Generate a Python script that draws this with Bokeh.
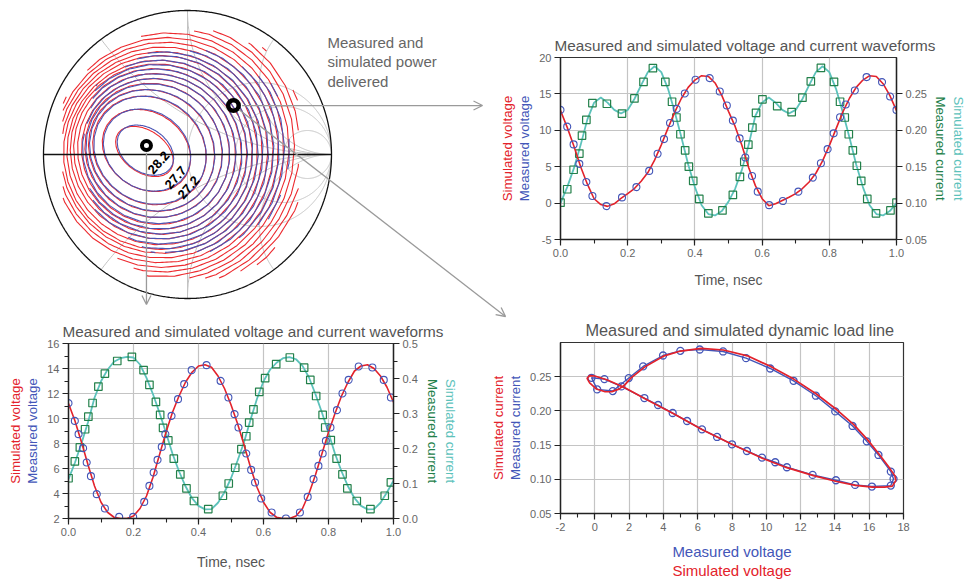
import numpy as np
from bokeh.plotting import figure
from bokeh.layouts import column
from bokeh.models import (Range1d, LinearAxis, SingleIntervalTicker, NumeralTickFormatter,
                          Title, Label, Arrow, OpenHead, GridBox)
from bokeh.core.properties import value
from bokeh.embed import file_html
from bokeh.resources import INLINE

FONT = "Liberation Sans"
RED = "#e3222b"
BLUE = "#4356b8"
GREEN = "#23804a"
CYAN = "#5cc2bb"
TITLE_GRAY = "#555555"
TICK_GRAY = "#666666"
GRID_GRAY = "#c4c4c4"

# ---------------------------------------------------------------- load-pull data
# Smith chart grid (normalised resistance / reactance values)
smith_r = [1, 2, 5]
smith_x = [0.5, 1, 2, -0.5, -1, -2]

# delivered power contours, dBm (simulated = red, measured = blue), reflection-coefficient plane
sim_levels = [28.2, 27.7, 27.2, 26.7, 26.2, 25.7, 25.2, 24.7, 24.2, 23.7, 23.2,
              22.7, 22.2, 21.7, 21.2, 20.7, 20.2, 19.7, 19.2, 18.7, 18.2, 17.7]
sim_cx = [-0.299, -0.285, -0.264, -0.250, -0.236, -0.222, -0.215, -0.208, -0.201, -0.194, -0.188,
          -0.181, -0.174, -0.167, -0.160, -0.153, -0.146, -0.139, -0.132, -0.125, -0.118, -0.111]
sim_cy = [0.021, 0.028, 0.028, 0.028, 0.028, 0.021, 0.021, 0.021, 0.021, 0.014, 0.014,
          0.014, 0.014, 0.014, 0.014, 0.014, 0.014, 0.014, 0.014, 0.014, 0.014, 0.014]
sim_a = [0.222, 0.326, 0.410, 0.451, 0.486, 0.521, 0.556, 0.590, 0.618, 0.646, 0.674,
         0.701, 0.729, 0.757, 0.785, 0.813, 0.840, 0.868, 0.896, 0.924, 0.951, 0.979]
sim_b = [0.146, 0.264, 0.361, 0.410, 0.458, 0.500, 0.535, 0.569, 0.604, 0.639, 0.674,
         0.701, 0.736, 0.771, 0.806, 0.840, 0.875, 0.910, 0.944, 0.979, 1.014, 1.049]

meas_levels = sim_levels[:18]
meas_cx = [-0.292, -0.281, -0.260, -0.245, -0.231, -0.218, -0.210, -0.202, -0.195, -0.188,
           -0.181, -0.174, -0.167, -0.160, -0.153, -0.146, -0.139, -0.132]
meas_cy = [0.030, 0.031, 0.030, 0.029, 0.027, 0.024, 0.022, 0.021, 0.019, 0.017,
           0.016, 0.015, 0.014, 0.014, 0.013, 0.013, 0.012, 0.012]
meas_a = [0.215, 0.320, 0.405, 0.448, 0.484, 0.519, 0.555, 0.589, 0.617, 0.645,
          0.673, 0.700, 0.728, 0.756, 0.784, 0.812, 0.839, 0.867]
meas_b = [0.152, 0.268, 0.362, 0.410, 0.456, 0.498, 0.533, 0.567, 0.602, 0.637,
          0.672, 0.699, 0.734, 0.769, 0.804, 0.838, 0.873, 0.908]
contour_tilt_deg = -35

# boundaries of the simulated and measured impedance sweeps
sim_sweep_gx = [-0.257, 0.243, 0.542, 0.771, 0.771, 0.542, 0.194, -0.257, -0.639, -0.868, -0.868, -0.604]
sim_sweep_gy = [-0.861, -0.861, -0.750, -0.389, 0.389, 0.736, 0.861, 0.861, 0.653, 0.375, -0.354, -0.653]
meas_sweep_gx = [-0.257, 0.194, 0.611, 0.729, 0.611, 0.194, -0.257, -0.639, -0.743, -0.639]
meas_sweep_gy = [-0.681, -0.681, -0.424, 0.028, 0.479, 0.722, 0.722, 0.479, 0.028, -0.424]

# optimum load and the operating load used for the waveforms
opt_load = (-0.285, 0.0625)
op_load = (0.319, 0.340)

# ---------------------------------------------------------------- waveform data (top right)
t_sim = [round(0.02 * k, 2) for k in range(51)]

ta_v_meas = [0.0, 0.020, 0.039, 0.056, 0.077, 0.095, 0.137, 0.183, 0.226, 0.264, 0.289, 0.308, 0.326,
             0.346, 0.370, 0.402, 0.444, 0.474, 0.495, 0.513, 0.533, 0.550, 0.570, 0.587, 0.621, 0.662,
             0.708, 0.751, 0.775, 0.795, 0.813, 0.832, 0.849, 0.876, 0.911, 0.957, 0.981, 1.0]
va_meas = [12.8, 10.5, 8.06, 5.39, 2.9, 0.97, -0.41, 0.78, 2.2, 4.42, 6.77, 8.79, 11.0,
           12.94, 15.06, 16.95, 17.17, 15.33, 13.4, 11.33, 8.89, 6.26, 3.73, 1.57, -0.28, 0.28,
           1.57, 3.5, 5.48, 7.41, 9.58, 11.79, 13.54, 15.47, 17.31, 16.62, 14.64, 12.8]
va_sim = [12.7, 10.4, 7.8, 5.0, 2.6, 0.6, -0.2, -0.45, -0.1, 0.65,
          1.3, 2.0, 3.0, 4.2, 5.9, 8.0, 10.3, 12.5, 14.4, 15.9,
          16.9, 17.5, 17.4, 16.5, 14.8, 12.6, 10.5, 7.9, 4.9, 2.4,
          0.6, -0.35, -0.1, 0.35, 0.8, 1.3, 2.0, 2.9, 4.1, 5.8,
          7.9, 10.2, 12.5, 14.4, 15.9, 16.9, 17.5, 17.4, 16.4, 14.8, 12.7]

ta_i_meas = [0.0, 0.020, 0.039, 0.056, 0.064, 0.077, 0.095, 0.138, 0.183, 0.220, 0.247, 0.275, 0.312,
             0.332, 0.345, 0.357, 0.371, 0.382, 0.395, 0.413, 0.440, 0.482, 0.513, 0.534, 0.547, 0.559,
             0.571, 0.582, 0.601, 0.645, 0.688, 0.720, 0.745, 0.775, 0.814, 0.832, 0.846, 0.858, 0.870,
             0.882, 0.895, 0.913, 0.939, 0.982, 1.0]
ia_meas = [0.1006, 0.119, 0.1458, 0.168, 0.1927, 0.2144, 0.2374, 0.2365, 0.223, 0.2438, 0.2664, 0.2853,
           0.2664, 0.2392, 0.2176, 0.1946, 0.1725, 0.150, 0.1306, 0.1057, 0.0859, 0.090, 0.1112, 0.136,
           0.1568, 0.1803, 0.2038, 0.224, 0.2425, 0.2333, 0.225, 0.2448, 0.2673, 0.2857, 0.2664, 0.2392,
           0.2176, 0.1946, 0.1725, 0.1513, 0.1306, 0.1057, 0.0859, 0.090, 0.1006]
ia_sim = [0.100, 0.122, 0.148, 0.180, 0.215, 0.238, 0.245, 0.238, 0.228, 0.223,
          0.228, 0.243, 0.262, 0.280, 0.288, 0.280, 0.257, 0.225, 0.190, 0.153,
          0.122, 0.097, 0.085, 0.083, 0.089, 0.102, 0.120, 0.146, 0.180, 0.220,
          0.238, 0.245, 0.238, 0.228, 0.223, 0.228, 0.243, 0.262, 0.280, 0.288,
          0.280, 0.257, 0.225, 0.190, 0.153, 0.122, 0.097, 0.085, 0.083, 0.089, 0.100]

# ---------------------------------------------------------------- waveform data (bottom left)
tb_v_meas = [0.0, 0.0195, 0.031, 0.045, 0.056, 0.069, 0.087, 0.112, 0.156, 0.199, 0.233, 0.249, 0.262,
             0.274, 0.287, 0.298, 0.317, 0.337, 0.356, 0.379, 0.425, 0.468, 0.492, 0.511, 0.523, 0.547,
             0.562, 0.574, 0.593, 0.625, 0.669, 0.712, 0.736, 0.754, 0.769, 0.782, 0.792, 0.806, 0.826,
             0.843, 0.862, 0.893, 0.935, 0.970, 0.992]
vb_meas = [11.23, 9.81, 8.75, 7.63, 6.48, 5.39, 3.95, 2.8, 2.13, 2.13, 3.33, 4.61, 5.68, 6.69, 7.73,
           8.75, 10.21, 11.55, 12.75, 13.87, 14.27, 13.01, 11.68, 10.35, 9.28, 7.2, 5.89, 4.88, 3.6,
           2.48, 2.0, 2.48, 3.73, 5.15, 6.21, 7.2, 8.21, 9.28, 10.67, 12.0, 13.09, 14.16, 14.08, 13.09, 11.68]
vb_sim = [11.2, 9.8, 8.1, 6.3, 4.6, 3.3, 2.5, 2.1, 2.0, 2.0,
          2.2, 2.8, 3.8, 5.3, 7.1, 8.9, 10.5, 11.8, 12.9, 13.7,
          14.2, 14.3, 14.1, 13.4, 12.4, 11.1, 9.6, 7.9, 6.1, 4.5,
          3.3, 2.5, 2.1, 2.0, 2.0, 2.2, 2.8, 4.0, 5.5, 7.2,
          8.9, 10.4, 11.8, 12.9, 13.8, 14.2, 14.3, 14.0, 13.4, 12.5, 11.3]

tb_i_meas = [0.0, 0.0195, 0.035, 0.051, 0.061, 0.074, 0.092, 0.112, 0.150, 0.195, 0.231, 0.249, 0.269,
             0.282, 0.291, 0.307, 0.324, 0.344, 0.363, 0.386, 0.430, 0.475, 0.493, 0.513, 0.532, 0.547,
             0.556, 0.569, 0.587, 0.605, 0.639, 0.681, 0.725, 0.744, 0.762, 0.782, 0.790, 0.807, 0.825,
             0.843, 0.858, 0.887, 0.929, 0.973, 0.992]
ib_meas = [0.115, 0.163, 0.203, 0.255, 0.291, 0.33, 0.377, 0.414, 0.45, 0.462, 0.424, 0.382, 0.333,
           0.296, 0.259, 0.223, 0.171, 0.126, 0.086, 0.05, 0.027, 0.065, 0.1, 0.145, 0.198, 0.235,
           0.274, 0.312, 0.362, 0.401, 0.441, 0.46, 0.431, 0.396, 0.35, 0.296, 0.26, 0.224, 0.171,
           0.126, 0.086, 0.05, 0.027, 0.065, 0.103]
ib_sim = [0.112, 0.160, 0.215, 0.275, 0.345, 0.392, 0.425, 0.448, 0.458, 0.462,
          0.460, 0.440, 0.402, 0.355, 0.302, 0.245, 0.185, 0.135, 0.092, 0.058,
          0.036, 0.026, 0.027, 0.045, 0.075, 0.115, 0.165, 0.218, 0.282, 0.342,
          0.392, 0.425, 0.445, 0.458, 0.461, 0.455, 0.436, 0.403, 0.355, 0.302,
          0.245, 0.185, 0.135, 0.092, 0.058, 0.036, 0.026, 0.027, 0.045, 0.075, 0.108]

# ---------------------------------------------------------------- dynamic load line (bottom right)
vc_meas = [2.89, 1.55, 0.56, -0.19, 0.14, 1.05, 1.98, 2.82, 3.98, 4.99, 6.12, 7.48, 8.82, 10.23,
           11.59, 12.89, 14.02, 15.03, 15.86, 16.54, 17.26, 17.42, 17.26, 16.16, 15.18, 14.06,
           12.70, 11.2, 10.52, 9.75, 8.87, 8.0, 7.13, 6.25, 5.38, 4.54, 3.69]
ic_meas = [0.2188, 0.2358, 0.2465, 0.2484, 0.2314, 0.229, 0.248, 0.265, 0.281, 0.2878, 0.2898,
           0.2869, 0.2771, 0.262, 0.244, 0.2222, 0.1993, 0.178, 0.1555, 0.1356, 0.1113, 0.1006,
           0.0908, 0.0894, 0.0918, 0.0986, 0.1064, 0.1176, 0.1249, 0.1317, 0.1414, 0.1512, 0.1619,
           0.173, 0.1852, 0.1969, 0.2086]
vc_sim = [17.55, 17.35, 16.9, 16.2, 15.2, 14.1, 12.8, 11.2, 9.8, 8.0, 6.3, 4.6, 2.9, 1.7, 0.7, 0.0,
          -0.3, -0.45, -0.3, 0.1, 0.6, 1.0, 1.4, 1.75, 2.1, 2.9, 4.0, 5.0, 6.2, 7.5, 8.9, 10.2, 11.6,
          12.9, 14.1, 15.1, 15.9, 16.6, 17.2, 17.5, 17.55]
ic_sim = [0.098, 0.090, 0.0885, 0.0885, 0.0912, 0.0968, 0.1050, 0.1170, 0.1305, 0.1512, 0.1722,
          0.1960, 0.2183, 0.2345, 0.2455, 0.2510, 0.2515, 0.2475, 0.2410, 0.2320, 0.2280, 0.2282,
          0.2318, 0.2380, 0.2480, 0.2640, 0.2800, 0.2875, 0.2915, 0.2890, 0.2805, 0.2655, 0.2465,
          0.2250, 0.2020, 0.1800, 0.1580, 0.1360, 0.1160, 0.1050, 0.098]


# ---------------------------------------------------------------- helpers
def style_plot(p, title, size="15.3px", offset=0):
    p.title.text = title
    p.title.align = "left"
    p.title.offset = offset
    p.title.text_font = FONT
    p.title.text_font_size = size
    p.title.text_font_style = "normal"
    p.title.text_color = TITLE_GRAY
    p.title.standoff = 7
    p.border_fill_color = None
    p.background_fill_color = "white"
    p.outline_line_color = "#333333"
    p.outline_line_width = 1.2


def style_axis(ax, label=None, color=None, label_standoff=4, size="13.3px"):
    ax.axis_line_color = "#222222"
    ax.axis_line_width = 1.4
    ax.major_tick_line_color = "#222222"
    ax.major_tick_line_width = 1.2
    ax.major_tick_out = 6
    ax.major_tick_in = 0
    ax.minor_tick_line_color = "#222222"
    ax.minor_tick_line_width = 1.1
    ax.minor_tick_out = 4
    ax.minor_tick_in = 0
    ax.major_label_text_font = FONT
    ax.major_label_text_font_size = "11px"
    ax.major_label_text_color = TICK_GRAY
    ax.major_label_standoff = 3
    if label:
        ax.axis_label = label
        ax.axis_label_text_color = color
        ax.axis_label_text_font = FONT
        ax.axis_label_text_font_size = size
        ax.axis_label_text_font_style = "normal"
        ax.axis_label_standoff = label_standoff


def side_title(p, text, color, side, size="13.3px", standoff=0):
    p.add_layout(Title(text=text, align="center", text_color=color, text_font=FONT,
                       text_font_size=size, text_font_style="normal", standoff=standoff), side)


def style_grid(p, xticker, yticker):
    p.xgrid.ticker = xticker
    p.ygrid.ticker = yticker
    p.grid.grid_line_color = GRID_GRAY
    p.grid.grid_line_width = 1.2


# ---------------------------------------------------------------- Smith chart / contour layer
PX = 144.0  # pixels per unit reflection coefficient
bg = figure(width=967, height=582, output_backend="svg", toolbar_location=None,
            x_range=Range1d(-187 / PX, 780 / PX), y_range=Range1d(-428 / PX, 154 / PX),
            x_axis_type=None, y_axis_type=None, min_border=0,
            border_fill_color="white", background_fill_color="white", outline_line_color=None)
bg.grid.visible = False

ang = np.linspace(0, 2 * np.pi, 721)
# constant resistance circles
for r in smith_r:
    c, rad = r / (1 + r), 1 / (1 + r)
    bg.line(c + rad * np.cos(ang), rad * np.sin(ang), line_color="#c2c2c2", line_width=1)
# constant reactance arcs, kept inside the unit circle
for xv in smith_x:
    cy, rad = 1 / xv, 1 / abs(xv)
    ax_ = 1 + rad * np.cos(ang)
    ay_ = cy + rad * np.sin(ang)
    keep = ax_ ** 2 + ay_ ** 2 <= 1.0005
    bg.line(np.where(keep, ax_, np.nan), np.where(keep, ay_, np.nan),
            line_color="#c2c2c2", line_width=1)
bg.line([0, 0], [-1, 1], line_color="#c2c2c2", line_width=1)

tilt = np.deg2rad(contour_tilt_deg)


def inside(poly_gx, poly_gy, x, y):
    px = np.array(poly_gx + poly_gx[:1])
    py = np.array(poly_gy + poly_gy[:1])
    ok = (x ** 2 + y ** 2) <= 1
    for i in range(len(poly_gx)):
        ok &= (px[i + 1] - px[i]) * (y - py[i]) - (py[i + 1] - py[i]) * (x - px[i]) >= 0
    return ok


def ring(cx, cy, a, b, nvert, phase, poly_gx, poly_gy):
    t = np.linspace(0, 2 * np.pi, nvert + 1) + phase
    ex, ey = a * np.cos(t), b * np.sin(t)
    vx = cx + ex * np.cos(tilt) - ey * np.sin(tilt)
    vy = cy + ex * np.sin(tilt) + ey * np.cos(tilt)
    f = np.linspace(0, 1, 11)[:-1]
    xs = np.concatenate([vx[i] + (vx[i + 1] - vx[i]) * f for i in range(nvert)] + [vx[-1:]])
    ys = np.concatenate([vy[i] + (vy[i + 1] - vy[i]) * f for i in range(nvert)] + [vy[-1:]])
    ok = inside(poly_gx, poly_gy, xs, ys)
    return list(np.where(ok, xs, np.nan)), list(np.where(ok, ys, np.nan))


sim_xs, sim_ys = [], []
for k in range(len(sim_levels)):
    x_, y_ = ring(sim_cx[k], sim_cy[k], sim_a[k], sim_b[k], 30, 0.05 * k, sim_sweep_gx, sim_sweep_gy)
    sim_xs.append(x_)
    sim_ys.append(y_)
bg.multi_line(sim_xs, sim_ys, line_color="#ec2a2f", line_width=1.1)

meas_xs, meas_ys = [], []
for k in range(len(meas_levels)):
    x_, y_ = ring(meas_cx[k], meas_cy[k], meas_a[k], meas_b[k], 26, 0.11 * k + 0.2,
                  meas_sweep_gx, meas_sweep_gy)
    meas_xs.append(x_)
    meas_ys.append(y_)
bg.multi_line(meas_xs, meas_ys, line_color="#4a54b4", line_width=1.1)

# outer circle and real axis
bg.line(np.cos(ang), np.sin(ang), line_color="#111111", line_width=1.3)
bg.line([-1, 1], [0, 0], line_color="#111111", line_width=1.3)

# contour value labels on the three innermost rings
lab_gx = [-0.201, -0.083, 0.007]
lab_gy = [-0.056, -0.160, -0.229]
bg.text(lab_gx, lab_gy, text=[f"{v:.1f}" for v in sim_levels[:3]], angle=0.85,
        text_font=value(FONT), text_font_size="13px", text_font_style="bold",
        text_color="black", text_align="center", text_baseline="middle")

# call-out arrows
ARROW = "#9a9a9a"
for xs_, ys_, xe_, ye_ in [
    (op_load[0] + 0.06, op_load[1], 295 / PX, op_load[1]),
    (op_load[0] + 0.04, op_load[1] - 0.03, 318 / PX, -162 / PX),
    (opt_load[0], opt_load[1] - 0.05, opt_load[0], -150 / PX),
]:
    bg.add_layout(Arrow(x_start=xs_, y_start=ys_, x_end=xe_, y_end=ye_,
                        line_color=ARROW, line_width=1.3,
                        end=OpenHead(size=9, line_color=ARROW, line_width=1.3)))

bg.scatter([opt_load[0]], [opt_load[1]], marker="circle", size=9, fill_color=None,
           line_color="black", line_width=4)
bg.scatter([op_load[0]], [op_load[1]], marker="circle", size=10.5, fill_color=None,
           line_color="black", line_width=4.5)

bg.add_layout(Label(x=140 / PX, y=121 / PX, text="Measured and\nsimulated power\ndelivered",
                    text_font=FONT, text_font_size="15px", text_color="#666666",
                    text_baseline="top", text_align="left", text_line_height=1.15))

# ---------------------------------------------------------------- top-right waveforms
pa = figure(width=482, height=305, output_backend="svg", toolbar_location=None,
            x_range=Range1d(0, 1), y_range=Range1d(-5, 20),
            min_border_left=75, min_border_right=60, min_border_top=57, min_border_bottom=66)
style_plot(pa, "Measured and simulated voltage and current waveforms", offset=-6)
pa.extra_y_ranges = {"cur": Range1d(0.05, 0.30)}
xt = SingleIntervalTicker(interval=0.2, num_minor_ticks=2)
yt = SingleIntervalTicker(interval=5, num_minor_ticks=0)
pa.xaxis.ticker = xt
pa.xaxis.formatter = NumeralTickFormatter(format="0.0")
pa.left[0].ticker = yt
pa.left[0].formatter = NumeralTickFormatter(format="0")
style_grid(pa, xt, yt)
style_axis(pa.below[0], "Time, nsec", TITLE_GRAY, 12, "14px")
style_axis(pa.left[0], "Measured voltage", BLUE)
side_title(pa, "Simulated voltage", RED, "left")
ra = LinearAxis(y_range_name="cur", ticker=SingleIntervalTicker(interval=0.05, num_minor_ticks=0),
                formatter=NumeralTickFormatter(format="0.00"))
style_axis(ra, "Measured current", GREEN, 3)
pa.add_layout(ra, "right")
side_title(pa, "Simulated current", CYAN, "right")

pa.line(t_sim, ia_sim, y_range_name="cur", line_color=CYAN, line_width=1.8)
pa.scatter(ta_i_meas, ia_meas, y_range_name="cur", marker="square", size=7.5,
           fill_color=None, line_color=GREEN, line_width=1.2)
pa.line(t_sim, va_sim, line_color=RED, line_width=1.6)
pa.scatter(ta_v_meas, va_meas, marker="circle", size=7, fill_color=None,
           line_color=BLUE, line_width=1.1)

# ---------------------------------------------------------------- bottom-left waveforms
pb = figure(width=485, height=277, output_backend="svg", toolbar_location=None,
            x_range=Range1d(0, 1), y_range=Range1d(2, 16),
            min_border_left=68, min_border_right=92, min_border_top=38, min_border_bottom=64)
style_plot(pb, "Measured and simulated voltage and current waveforms", offset=-6)
pb.extra_y_ranges = {"cur": Range1d(0.0, 0.5)}
xtb = SingleIntervalTicker(interval=0.2, num_minor_ticks=2)
ytb = SingleIntervalTicker(interval=2, num_minor_ticks=2)
pb.xaxis.ticker = xtb
pb.xaxis.formatter = NumeralTickFormatter(format="0.0")
pb.left[0].ticker = ytb
style_grid(pb, xtb, ytb)
style_axis(pb.below[0], "Time, nsec", TITLE_GRAY, 15, "14px")
style_axis(pb.left[0], "Measured voltage", BLUE)
side_title(pb, "Simulated voltage", RED, "left")
rb = LinearAxis(y_range_name="cur", ticker=SingleIntervalTicker(interval=0.1, num_minor_ticks=2),
                formatter=NumeralTickFormatter(format="0.0"))
style_axis(rb, "Measured current", GREEN)
pb.add_layout(rb, "right")
side_title(pb, "Simulated current", CYAN, "right")

pb.line(t_sim, ib_sim, y_range_name="cur", line_color=CYAN, line_width=1.8)
pb.scatter(tb_i_meas, ib_meas, y_range_name="cur", marker="square", size=7.5,
           fill_color=None, line_color=GREEN, line_width=1.2)
pb.line(t_sim, vb_sim, line_color=RED, line_width=1.6)
pb.scatter(tb_v_meas, vb_meas, marker="circle", size=7, fill_color=None,
           line_color=BLUE, line_width=1.1)

# ---------------------------------------------------------------- bottom-right load line
pc = figure(width=482, height=277, output_backend="svg", toolbar_location=None,
            x_range=Range1d(-2, 18), y_range=Range1d(0.05, 0.30),
            min_border_left=75, min_border_right=64, min_border_top=37, min_border_bottom=69)
style_plot(pc, "Measured and simulated dynamic load line", "16.3px", offset=25)
xtc = SingleIntervalTicker(interval=2, num_minor_ticks=2)
ytc = SingleIntervalTicker(interval=0.05, num_minor_ticks=0)
pc.xaxis.ticker = xtc
pc.xaxis.formatter = NumeralTickFormatter(format="0")
pc.yaxis.ticker = ytc
pc.yaxis.formatter = NumeralTickFormatter(format="0.00")
style_grid(pc, xtc, ytc)
style_axis(pc.below[0], "Measured voltage", BLUE, 9, "15px")
side_title(pc, "Simulated voltage", RED, "below", "15px", -6)
style_axis(pc.left[0], "Measured current", BLUE)
side_title(pc, "Simulated current", RED, "left")

pc.line(vc_meas + vc_meas[:1], ic_meas + ic_meas[:1], line_color=BLUE, line_width=1.4)
pc.scatter(vc_meas, ic_meas, marker="circle", size=7, fill_color=None,
           line_color=BLUE, line_width=1.3)
pc.line(vc_sim, ic_sim, line_color=RED, line_width=1.7)

# ---------------------------------------------------------------- page
# each plot sits in its own column so that the grid does not align their frames
page = GridBox(children=[(column(bg), 0, 0, 2, 2), (column(pa), 0, 1),
                         (column(pb), 1, 0), (column(pc), 1, 1)])
open("out.html", "w").write(file_html(page, INLINE))
